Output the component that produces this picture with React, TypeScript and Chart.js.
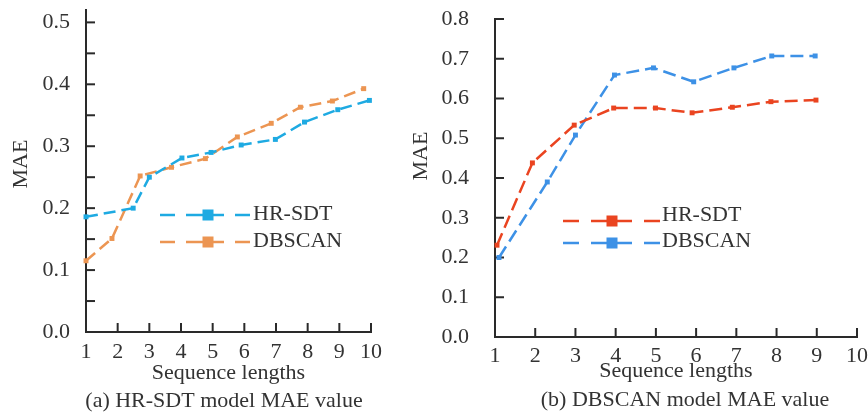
import React, { useEffect, useRef } from 'react';
import { Chart, registerables } from 'chart.js';

Chart.register(...registerables);

// ---------- data ----------
// (a) HR-SDT model MAE value
const aHrX = [1, 2.49, 3.0, 4.03, 4.95, 5.9, 6.98, 7.9, 8.95, 9.95];
const aHrY = [0.186, 0.2, 0.25, 0.281, 0.29, 0.302, 0.311, 0.339, 0.359, 0.374];
const aDbX = [1, 1.82, 2.71, 3.7, 4.77, 5.78, 6.85, 7.77, 8.78, 9.77];
const aDbY = [0.115, 0.151, 0.252, 0.266, 0.28, 0.315, 0.337, 0.363, 0.373, 0.393];

// (b) DBSCAN model MAE value
const bHrX = [1.05, 1.93, 2.97, 3.95, 4.99, 5.9, 6.9, 7.86, 8.98];
const bHrY = [0.231, 0.438, 0.533, 0.576, 0.576, 0.564, 0.578, 0.592, 0.596];
const bDbX = [1.1, 2.3, 3.0, 3.97, 4.94, 5.94, 6.94, 7.88, 8.96];
const bDbY = [0.2, 0.39, 0.508, 0.659, 0.677, 0.642, 0.677, 0.707, 0.707];

const seriesNames = ['HR-SDT', 'DBSCAN'];
const xTitle = 'Sequence lengths';
const yTitle = 'MAE';
const captionA = '(a) HR-SDT model MAE value';
const captionB = '(b) DBSCAN model MAE value';

const FONT = '"Liberation Serif", "Times New Roman", serif';
const TEXT = '#333333';
const AXIS = '#2a2a2a';
const TICK_LEN = 9;

const toPoints = (xs: number[], ys: number[]) => xs.map((x, i) => ({ x, y: ys[i] }));

// ---------- plugins ----------
function drawInwardTicks(chart: any) {
  const ctx = chart.ctx;
  const ca = chart.chartArea;
  const xs = chart.scales['x'];
  const ys = chart.scales['y'];
  ctx.save();
  ctx.setLineDash([]);
  ctx.strokeStyle = AXIS;
  ctx.lineWidth = 2;
  const xt = xs.ticks || [];
  for (let i = 0; i < xt.length; i++) {
    const px = xs.getPixelForValue(xt[i].value);
    ctx.beginPath();
    ctx.moveTo(px, ca.bottom);
    ctx.lineTo(px, ca.bottom - TICK_LEN);
    ctx.stroke();
  }
  const yt = ys.ticks || [];
  for (let i = 0; i < yt.length; i++) {
    const py = ys.getPixelForValue(yt[i].value);
    ctx.beginPath();
    ctx.moveTo(ca.left, py);
    ctx.lineTo(ca.left + TICK_LEN, py);
    ctx.stroke();
  }
  ctx.restore();
}

const inwardTicks = {
  id: 'inwardTicks',
  beforeDatasetsDraw(chart: any) {
    drawInwardTicks(chart);
  },
};

const dashLegend = {
  id: 'dashLegend',
  afterDraw(chart: any, _a: any, opts: any) {
    const { ctx } = chart;
    chart.data.datasets.forEach((ds: any, i: number) => {
      const ly = opts.lineYs[i];
      const ty = opts.textYs[i];
      const x0 = opts.x;
      const x1 = opts.x + opts.length;
      ctx.save();
      ctx.strokeStyle = ds.borderColor;
      ctx.lineWidth = 2.5;
      ctx.setLineDash(opts.dash);
      ctx.beginPath();
      ctx.moveTo(x0, ly);
      ctx.lineTo(x1, ly);
      ctx.stroke();
      ctx.setLineDash([]);
      ctx.fillStyle = ds.borderColor;
      const s = opts.marker;
      ctx.fillRect(opts.x + opts.markerAt - s / 2, ly - s / 2, s, s);
      ctx.fillStyle = TEXT;
      ctx.font = `22px ${FONT}`;
      ctx.textAlign = 'left';
      ctx.textBaseline = 'middle';
      ctx.fillText(ds.label, x1 + opts.gap, ty);
      ctx.restore();
    });
  },
};

const freeTexts = {
  id: 'freeTexts',
  afterDraw(chart: any, _a: any, opts: any) {
    const { ctx } = chart;
    (opts.items || []).forEach((it: any) => {
      ctx.save();
      ctx.translate(it.x, it.y);
      ctx.rotate(((it.rotation || 0) * Math.PI) / 180);
      ctx.fillStyle = TEXT;
      ctx.font = `22px ${FONT}`;
      ctx.textAlign = 'center';
      ctx.textBaseline = 'middle';
      ctx.fillText(it.text, 0, 0);
      ctx.restore();
    });
  },
};

const zeroPad = (s: any) => {
  s.paddingTop = 0;
  s.paddingBottom = 0;
  s.paddingLeft = 0;
  s.paddingRight = 0;
};

// ---------- panel ----------
type PanelProps = {
  left: number;
  width: number;
  datasets: any[];
  yMax: number;
  yStep: number;
  yLabelEvery: number;
  padding: any;
  yWidth: number;
  xHeight: number;
  yTickPad: number;
  xTickPad: number;
  xTitlePad: number;
  legend: any;
  texts: any[];
};

function Panel(p: PanelProps) {
  const ref = useRef<HTMLCanvasElement | null>(null);
  useEffect(() => {
    if (!ref.current) return;
    const chart = new Chart(ref.current, {
      type: 'line',
      data: { datasets: p.datasets },
      plugins: [inwardTicks, dashLegend, freeTexts],
      options: {
        animation: false,
        responsive: false,
        layout: { padding: p.padding },
        plugins: {
          legend: { display: false },
          tooltip: { enabled: false },
          dashLegend: p.legend,
          freeTexts: { items: p.texts },
        } as any,
        scales: {
          x: {
            type: 'linear',
            min: 1,
            max: 10,
            afterFit: (s: any) => {
              s.height = p.xHeight;
              zeroPad(s);
            },
            grid: { display: false, drawTicks: false },
            border: { display: true, color: AXIS, width: 2 },
            ticks: {
              stepSize: 1,
              padding: p.xTickPad,
              color: TEXT,
              font: { family: FONT, size: 22 },
              maxRotation: 0,
              autoSkip: false,
            },
            title: {
              display: true,
              text: xTitle,
              color: TEXT,
              font: { family: FONT, size: 22 },
              padding: { top: 0, bottom: p.xTitlePad },
            },
          },
          y: {
            type: 'linear',
            min: 0,
            max: p.yMax,
            afterFit: (s: any) => {
              s.width = p.yWidth;
              zeroPad(s);
            },
            grid: { display: false, drawTicks: false },
            border: { display: true, color: AXIS, width: 2 },
            ticks: {
              stepSize: p.yStep,
              includeBounds: false,
              padding: p.yTickPad,
              color: TEXT,
              font: { family: FONT, size: 22 },
              autoSkip: false,
              callback: (v: any) => {
                const r = Math.round(Number(v) * 100);
                return r % Math.round(p.yLabelEvery * 100) === 0 ? (r / 100).toFixed(1) : '';
              },
            },
          },
        },
      } as any,
    });
    return () => chart.destroy();
  }, []);
  return (
    <canvas
      ref={ref}
      width={p.width}
      height={416}
      style={{ position: 'absolute', left: p.left, top: 0, width: p.width, height: 416 }}
    />
  );
}

const lineStyle = (color: string, dash: number[], radius: number) => ({
  borderColor: color,
  backgroundColor: color,
  borderWidth: 2.5,
  borderDash: dash,
  pointStyle: 'rect',
  pointRadius: radius,
  pointBorderWidth: 0,
  tension: 0,
  fill: false,
  clip: false,
});

export default function App() {
  const aSets = [
    { label: seriesNames[0], data: toPoints(aHrX, aHrY), ...lineStyle('#1eaae2', [12, 6], 3.5) },
    { label: seriesNames[1], data: toPoints(aDbX, aDbY), ...lineStyle('#ec9552', [12, 6], 3.5) },
  ];
  const bSets = [
    { label: seriesNames[0], data: toPoints(bHrX, bHrY), ...lineStyle('#ea4420', [13, 6], 3.5) },
    { label: seriesNames[1], data: toPoints(bDbX, bDbY), ...lineStyle('#3d91e6', [13, 6], 3.5) },
  ];
  return (
    <div
      style={{ position: 'fixed', left: 0, top: 0, width: 868, height: 416, background: '#ffffff', overflow: 'hidden' }}
    >
      <Panel
        left={0}
        width={400}
        datasets={aSets}
        yMax={0.52}
        yStep={0.05}
        yLabelEvery={0.1}
        padding={{ left: 0, right: 29, top: 10, bottom: 0 }}
        yWidth={86}
        xHeight={84}
        yTickPad={16}
        xTickPad={7}
        xTitlePad={30}
        legend={{
          x: 160,
          length: 90,
          markerAt: 48,
          marker: 11,
          gap: 3,
          dash: [15, 11, 38, 11, 15, 200],
          lineYs: [215, 242],
          textYs: [214, 241],
        }}
        texts={[
          { text: yTitle, x: 21, y: 164, rotation: -90 },
          { text: captionA, x: 224, y: 401 },
        ]}
      />
      <Panel
        left={400}
        width={468}
        datasets={bSets}
        yMax={0.8}
        yStep={0.1}
        yLabelEvery={0.1}
        padding={{ left: 0, right: 11, top: 19, bottom: 0 }}
        yWidth={95}
        xHeight={79}
        yTickPad={26}
        xTickPad={6}
        xTitlePad={32}
        legend={{
          x: 163,
          length: 97,
          markerAt: 49,
          marker: 11,
          gap: 2,
          dash: [16, 12, 41, 12, 16, 200],
          lineYs: [221, 243],
          textYs: [215, 241],
        }}
        texts={[
          { text: yTitle, x: 21, y: 156, rotation: -90 },
          { text: captionB, x: 285, y: 400 },
        ]}
      />
    </div>
  );
}
